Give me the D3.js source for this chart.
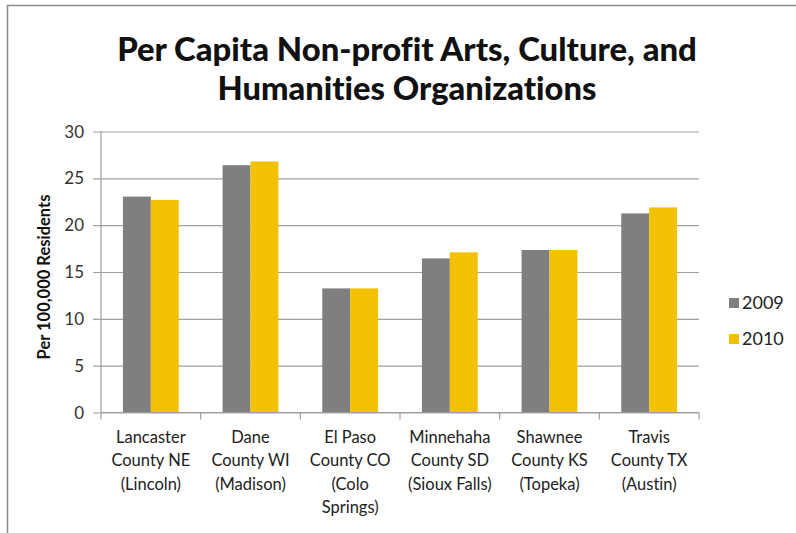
<!DOCTYPE html>
<html><head><meta charset="utf-8">
<script src="https://cdn.jsdelivr.net/npm/d3@7"></script>
<style>body{margin:0;background:#fff;} svg{display:block;} text{font-variant-ligatures:none;font-feature-settings:"liga" 0;}</style>
</head><body>
<svg id="c" width="796" height="533"></svg>
<script>
const categories = [
  ["Lancaster","County NE","(Lincoln)"],
  ["Dane","County WI","(Madison)"],
  ["El Paso","County CO","(Colo","Springs)"],
  ["Minnehaha","County SD","(Sioux Falls)"],
  ["Shawnee","County KS","(Topeka)"],
  ["Travis","County TX","(Austin)"]
];
const series = ["2009","2010"];
const values2009 = [23.05, 26.4, 13.25, 16.45, 17.35, 21.25];
const values2010 = [22.7, 26.8, 13.25, 17.1, 17.35, 21.9];
const yTicks = [0,5,10,15,20,25,30];
const colors = ["#7f7f7f","#f2c200"];
const titleLines = ["Per Capita Non-profit Arts, Culture, and","Humanities Organizations"];
const yTitle = "Per 100,000 Residents";

const svg = d3.select("#c");
const font = "Lato, 'Open Sans', sans-serif";
// frame
svg.append("path").attr("d","M7.5,533 V5.5 H796").attr("fill","none").attr("stroke","#8c8c8c").attr("stroke-width",1.5);

const L=101, R=699, T=131.5, B=412.5;
const x = d3.scaleBand().domain(d3.range(categories.length)).range([L,R]).paddingInner(0.44).paddingOuter(0.22);
const xs = d3.scaleBand().domain(series).range([0,x.bandwidth()]);
const y = d3.scaleLinear().domain([0,30]).range([B,T]);

// gridlines + ticks
const g = svg.append("g").attr("transform",`translate(${L},0)`)
  .call(d3.axisLeft(y).tickValues(yTicks).tickSize(-(R-L)).tickFormat(""));
g.select(".domain").remove();
g.selectAll(".tick line").attr("stroke","#a0a0a0").attr("stroke-width",1.2).attr("x1",-8).attr("x2",R-L);
// y labels
svg.append("g").selectAll("text").data(yTicks).join("text")
  .attr("x",84).attr("y",d=>y(d)).attr("dy","0.36em").attr("text-anchor","end")
  .attr("font-family",font).attr("font-size",17).attr("fill","#333").text(d=>d);

// bars
const data = categories.map((c,i)=>({i, v:[values2009[i],values2010[i]]}));
const grp = svg.append("g").selectAll("g").data(data).join("g").attr("transform",d=>`translate(${x(d.i)},0)`);
grp.selectAll("rect").data(d=>d.v.map((v,k)=>({s:series[k],v,k}))).join("rect")
  .attr("x",d=>xs(d.s)).attr("width",xs.bandwidth())
  .attr("y",d=>y(d.v)).attr("height",d=>B-y(d.v)).attr("fill",d=>colors[d.k]);

// axes lines
svg.append("line").attr("x1",L).attr("x2",L).attr("y1",T).attr("y2",B).attr("stroke","#a0a0a0").attr("stroke-width",1.2);
svg.append("line").attr("x1",L).attr("x2",R).attr("y1",B).attr("y2",B).attr("stroke","#a0a0a0").attr("stroke-width",1.2);
const step = (R-L)/categories.length;
svg.append("g").selectAll("line").data(d3.range(categories.length+1)).join("line")
  .attr("x1",d=>L+d*step).attr("x2",d=>L+d*step).attr("y1",B).attr("y2",B+7)
  .attr("stroke","#a0a0a0").attr("stroke-width",1.2);

// category labels
svg.append("g").selectAll("text").data(categories).join("text")
  .attr("x",(d,i)=>x(i)+x.bandwidth()/2).attr("y",443)
  .attr("text-anchor","middle").attr("font-family",font).attr("font-size",16.5).attr("fill","#222")
  .selectAll("tspan").data(d=>d).join("tspan")
  .attr("x",function(){return this.parentNode.getAttribute("x");})
  .attr("dy",(d,j)=>j?"1.41em":0).text(d=>d);

// y title
svg.append("text").attr("transform","translate(50,277) rotate(-90)").attr("text-anchor","middle")
  .attr("font-family",font).attr("font-weight","bold").attr("font-size",16.5).attr("fill","#111").text(yTitle);

// title
const tt = svg.append("g").selectAll("text").data(titleLines).join("text")
  .attr("x",407).attr("y",(d,i)=>61+i*39).attr("text-anchor","middle")
  .attr("font-family",font).attr("font-weight","900").attr("font-size",30).attr("fill","#111").text(d=>d);
const target=[580,379];
tt.each(function(d,i){const w=this.getComputedTextLength(); d3.select(this).attr("font-size",30*target[i]/w);});

// legend
const lg = svg.append("g").selectAll("g").data(series).join("g").attr("transform",(d,i)=>`translate(729,${303+i*36})`);
lg.append("rect").attr("x",0).attr("y",-5).attr("width",10).attr("height",10).attr("fill",(d,i)=>colors[i]);
lg.append("text").attr("x",13).attr("dy","0.36em").attr("font-family",font).attr("font-size",18).attr("fill","#222").text(d=>d);
</script>
</body></html>
